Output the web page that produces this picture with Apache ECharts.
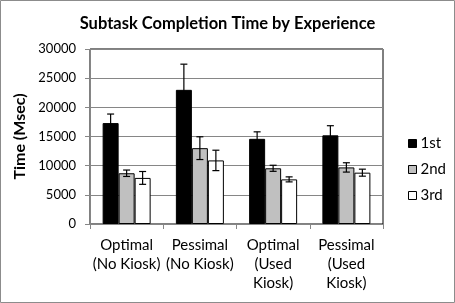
<!DOCTYPE html>
<html><head><meta charset="utf-8">
<script src="https://cdn.jsdelivr.net/npm/echarts@6/dist/echarts.min.js"></script>
<style>html,body{margin:0;padding:0;background:#fff}#c{width:455px;height:303px}</style>
</head><body><div id="c"></div>
<script>
var categories = ['Optimal\n(No Kiosk)', 'Pessimal\n(No Kiosk)', 'Optimal\n(Used\nKiosk)', 'Pessimal\n(Used\nKiosk)'];
var seriesNames = ['1st', '2nd', '3rd'];
var first = [17300, 23000, 14600, 15200];
var second = [8700, 13000, 9550, 9700];
var third = [7900, 10900, 7650, 8800];
var firstErr = [1550, 4400, 1200, 1650];
var secondErr = [550, 1950, 520, 800];
var thirdErr = [1100, 1750, 430, 600];
var yTicks = [0, 5000, 10000, 15000, 20000, 25000, 30000];

var FONT = 'Lato';
var BAR_W = 16;
var colors = ['#000000', '#c0c0c0', '#ffffff'];
var values = [first, second, third];
var errs = [firstErr, secondErr, thirdErr];

var chart = echarts.init(document.getElementById('c'));
var series = [];
values.forEach(function (v, i) {
  series.push({
    name: seriesNames[i], type: 'bar', data: v, barWidth: BAR_W, barGap: '0%',
    itemStyle: { color: colors[i], borderColor: '#000', borderWidth: 1 },
    z: 2
  });
});
values.forEach(function (v, i) {
  series.push({
    type: 'custom', z: 5, silent: true,
    data: v.map(function (val, k) { return [k, val - errs[i][k], val + errs[i][k]]; }),
    renderItem: function (params, api) {
      var lo = api.coord([api.value(0), api.value(1)]);
      var hi = api.coord([api.value(0), api.value(2)]);
      var x = lo[0] + (i - 1) * BAR_W;
      var h = 3.5;
      var st = { stroke: '#000', lineWidth: 1.2 };
      return { type: 'group', children: [
        { type: 'line', shape: { x1: x, y1: lo[1], x2: x, y2: hi[1] }, style: st },
        { type: 'line', shape: { x1: x - h, y1: hi[1], x2: x + h, y2: hi[1] }, style: st },
        { type: 'line', shape: { x1: x - h, y1: lo[1], x2: x + h, y2: lo[1] }, style: st }
      ]};
    }
  });
});

chart.setOption({
  animation: false,
  textStyle: { fontFamily: FONT, color: '#000' },
  title: { text: 'Subtask Completion Time by Experience', left: 'center', top: 10,
    textStyle: { fontFamily: FONT, fontWeight: 'bold', fontSize: 16.5, color: '#000' } },
  graphic: [{ type: 'rect', shape: { x: 0.5, y: 0.5, width: 454, height: 302 },
    style: { fill: 'none', stroke: '#8c8c8c', lineWidth: 1 }, silent: true }],
  grid: { left: 90, right: 72, top: 49, bottom: 79, show: true, borderColor: '#000', borderWidth: 1 },
  legend: { orient: 'vertical', left: 403, top: 131, itemWidth: 8, itemHeight: 8, itemGap: 11,
    data: seriesNames.map(function (n, i) { return { name: n, icon: 'rect',
      itemStyle: { color: colors[i], borderColor: '#000', borderWidth: 1 } }; }),
    textStyle: { fontFamily: FONT, fontSize: 15, color: '#000', padding: [0, 0, 0, -1] } },
  xAxis: { type: 'category', data: categories,
    axisLine: { lineStyle: { color: '#868686' } },
    axisTick: { show: true, length: 5, lineStyle: { color: '#868686' } },
    axisLabel: { interval: 0, fontFamily: FONT, fontSize: 15, color: '#000', lineHeight: 19, margin: 12 } },
  yAxis: { type: 'value', min: yTicks[0], max: yTicks[yTicks.length - 1], interval: yTicks[1] - yTicks[0],
    name: 'Time (Msec)', nameLocation: 'middle', nameGap: 55,
    nameTextStyle: { fontFamily: FONT, fontWeight: 'bold', fontSize: 16, color: '#000' },
    axisLine: { show: true, lineStyle: { color: '#868686' } },
    axisTick: { show: true, length: 5, lineStyle: { color: '#868686' } },
    splitLine: { lineStyle: { color: '#868686' } },
    axisLabel: { fontFamily: FONT, fontSize: 13, color: '#000', margin: 14,
      formatter: function (v) { return String(v); } } },
  series: series
});
</script></body></html>
